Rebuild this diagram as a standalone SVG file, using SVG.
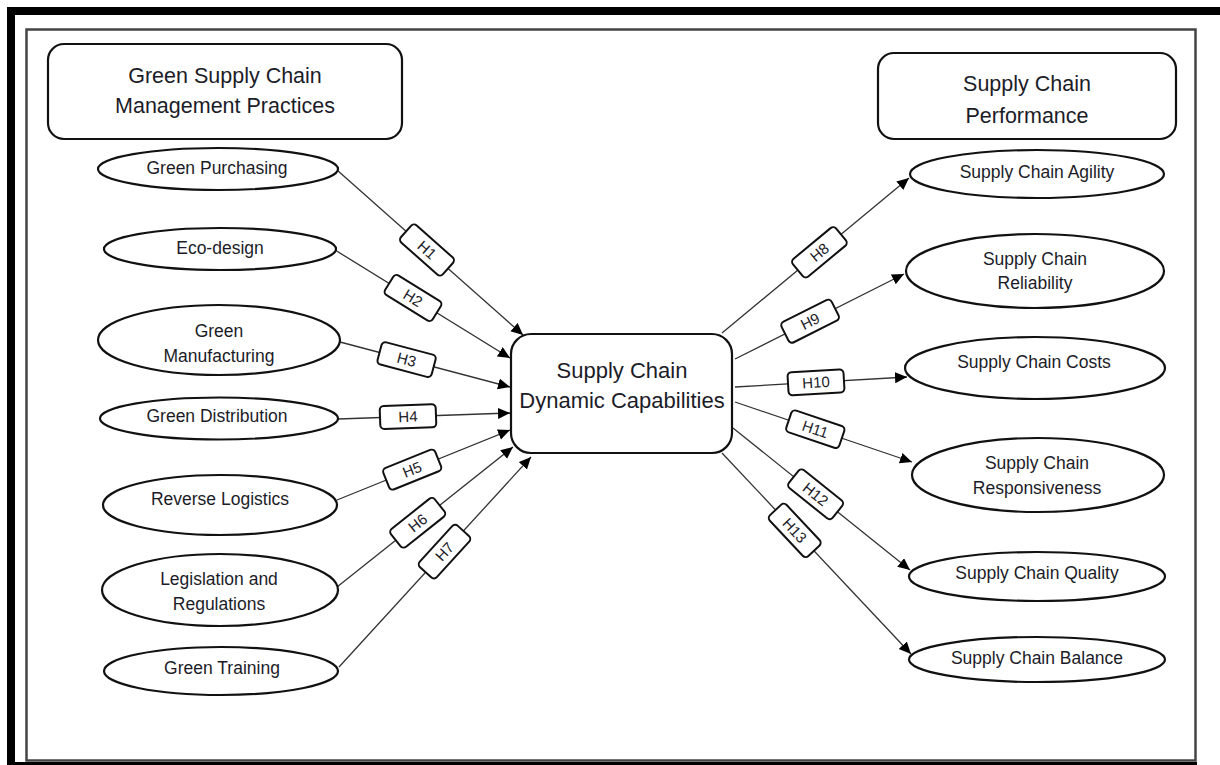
<svg xmlns="http://www.w3.org/2000/svg" width="1220" height="765" viewBox="0 0 1220 765">
<defs>
<style>
.t{font-family:"Liberation Sans",Arial,sans-serif;fill:#1c1c28;text-anchor:middle}
.el{font-size:17.5px}
.hd{font-size:21.5px}
.ct{font-size:22px}
.lb{font-size:15px}
.node{fill:#fff;stroke:#111;stroke-width:2.2}
.lbox{fill:#fff;stroke:#111;stroke-width:2}
.con{stroke:#333;stroke-width:1.3;fill:none;marker-end:url(#arr)}
</style>
<marker id="arr" markerUnits="userSpaceOnUse" markerWidth="13" markerHeight="12" refX="12" refY="5.5" orient="auto">
<path d="M0,0 L12,5.5 L0,11 z" fill="#000"/>
</marker>
</defs>
<rect width="1220" height="765" fill="#fff"/>
<g id="frame">
<rect x="7" y="7" width="1213" height="8" fill="#000"/>
<rect x="7" y="7" width="8" height="758" fill="#000"/>
<rect x="7" y="762" width="1190" height="3" fill="#000"/>
<rect x="26.5" y="29.5" width="1169" height="731" fill="none" stroke="#444" stroke-width="2.5"/>
</g>
<g id="connectors">
<line class="con" x1="337" y1="170" x2="523" y2="335"/>
<line class="con" x1="335" y1="250" x2="510" y2="358"/>
<line class="con" x1="340" y1="342" x2="510" y2="387"/>
<line class="con" x1="338" y1="419" x2="510" y2="413"/>
<line class="con" x1="337" y1="500" x2="510" y2="430"/>
<line class="con" x1="337" y1="587" x2="513" y2="447"/>
<line class="con" x1="339" y1="667" x2="531" y2="457"/>
<line class="con" x1="722" y1="333" x2="909" y2="178"/>
<line class="con" x1="735" y1="359" x2="904" y2="274"/>
<line class="con" x1="735" y1="387" x2="907" y2="377"/>
<line class="con" x1="735" y1="402" x2="912" y2="462"/>
<line class="con" x1="733" y1="428" x2="910" y2="570"/>
<line class="con" x1="722" y1="453" x2="911" y2="654"/>
</g>
<g id="labels">
<g transform="translate(427,250) rotate(41.6)"><rect class="lbox" x="-28" y="-11.5" width="56" height="23" rx="4"/><text class="t lb" y="5.3">H1</text></g>
<g transform="translate(413,298) rotate(31.7)"><rect class="lbox" x="-28" y="-11.5" width="56" height="23" rx="4"/><text class="t lb" y="5.3">H2</text></g>
<g transform="translate(406.6,359.6) rotate(14.8)"><rect class="lbox" x="-28" y="-11.5" width="56" height="23" rx="4"/><text class="t lb" y="5.3">H3</text></g>
<g transform="translate(408,416.6) rotate(-2)"><rect class="lbox" x="-28" y="-11.5" width="56" height="23" rx="4"/><text class="t lb" y="5.3">H4</text></g>
<g transform="translate(412.2,469.6) rotate(-22)"><rect class="lbox" x="-28" y="-11.5" width="56" height="23" rx="4"/><text class="t lb" y="5.3">H5</text></g>
<g transform="translate(417.7,522.8) rotate(-38.5)"><rect class="lbox" x="-28" y="-11.5" width="56" height="23" rx="4"/><text class="t lb" y="5.3">H6</text></g>
<g transform="translate(444.5,551.6) rotate(-47.6)"><rect class="lbox" x="-28" y="-11.5" width="56" height="23" rx="4"/><text class="t lb" y="5.3">H7</text></g>
<g transform="translate(819.4,252.3) rotate(-39.6)"><rect class="lbox" x="-28" y="-11.5" width="56" height="23" rx="4"/><text class="t lb" y="5.3">H8</text></g>
<g transform="translate(810.1,321.2) rotate(-26.7)"><rect class="lbox" x="-28" y="-11.5" width="56" height="23" rx="4"/><text class="t lb" y="5.3">H9</text></g>
<g transform="translate(816,382.3) rotate(-3.3)"><rect class="lbox" x="-28" y="-11.5" width="56" height="23" rx="4"/><text class="t lb" y="5.3">H10</text></g>
<g transform="translate(815.3,429.2) rotate(18.7)"><rect class="lbox" x="-28" y="-11.5" width="56" height="23" rx="4"/><text class="t lb" y="5.3">H11</text></g>
<g transform="translate(815.6,494.3) rotate(38.7)"><rect class="lbox" x="-28" y="-11.5" width="56" height="23" rx="4"/><text class="t lb" y="5.3">H12</text></g>
<g transform="translate(794.7,530.4) rotate(46.8)"><rect class="lbox" x="-28" y="-11.5" width="56" height="23" rx="4"/><text class="t lb" y="5.3">H13</text></g>
</g>
<g id="hdr-gscm">
<rect class="node" x="48" y="44" width="354" height="95" rx="16"/>
<text class="t hd" x="225" y="82.7">Green Supply Chain</text>
<text class="t hd" x="225" y="112.7">Management Practices</text>
</g>
<g id="hdr-scp">
<rect class="node" x="878" y="53" width="298" height="86" rx="16"/>
<text class="t hd" x="1027" y="91">Supply Chain</text>
<text class="t hd" x="1027" y="123">Performance</text>
</g>
<g id="scdc">
<rect class="node" x="511" y="334" width="221" height="119" rx="20"/>
<text class="t ct" x="622" y="378">Supply Chain</text>
<text class="t ct" x="622" y="408">Dynamic Capabilities</text>
</g>
<g id="green-purchasing">
<ellipse class="node" cx="218" cy="169" rx="120" ry="21"/>
<text class="t el" x="217" y="174.3">Green Purchasing</text>
</g>
<g id="eco-design">
<ellipse class="node" cx="220" cy="249" rx="116" ry="21"/>
<text class="t el" x="220" y="254.3">Eco-design</text>
</g>
<g id="green-manufacturing">
<ellipse class="node" cx="219" cy="340" rx="121" ry="35"/>
<text class="t el" x="219" y="337.3">Green</text>
<text class="t el" x="219" y="362.3">Manufacturing</text>
</g>
<g id="green-distribution">
<ellipse class="node" cx="219" cy="418.5" rx="119" ry="21"/>
<text class="t el" x="217" y="422.3">Green Distribution</text>
</g>
<g id="reverse-logistics">
<ellipse class="node" cx="220" cy="505" rx="117" ry="30"/>
<text class="t el" x="220" y="505.3">Reverse Logistics</text>
</g>
<g id="legislation">
<ellipse class="node" cx="220" cy="590" rx="118" ry="36"/>
<text class="t el" x="219" y="585.3">Legislation and</text>
<text class="t el" x="219" y="610.3">Regulations</text>
</g>
<g id="green-training">
<ellipse class="node" cx="221" cy="671" rx="117" ry="24"/>
<text class="t el" x="222" y="674.3">Green Training</text>
</g>
<g id="sc-agility">
<ellipse class="node" cx="1037" cy="174" rx="127" ry="24"/>
<text class="t el" x="1037" y="178.3">Supply Chain Agility</text>
</g>
<g id="sc-reliability">
<ellipse class="node" cx="1035" cy="271" rx="129" ry="37"/>
<text class="t el" x="1035" y="265.3">Supply Chain</text>
<text class="t el" x="1035" y="289.3">Reliability</text>
</g>
<g id="sc-costs">
<ellipse class="node" cx="1035" cy="368" rx="130" ry="31"/>
<text class="t el" x="1034" y="368.3">Supply Chain Costs</text>
</g>
<g id="sc-responsiveness">
<ellipse class="node" cx="1038" cy="475" rx="126" ry="37"/>
<text class="t el" x="1037" y="469.3">Supply Chain</text>
<text class="t el" x="1037" y="494.3">Responsiveness</text>
</g>
<g id="sc-quality">
<ellipse class="node" cx="1037" cy="576.5" rx="128" ry="24.5"/>
<text class="t el" x="1037" y="579.3">Supply Chain Quality</text>
</g>
<g id="sc-balance">
<ellipse class="node" cx="1037" cy="659.5" rx="128" ry="22.5"/>
<text class="t el" x="1037" y="664.3">Supply Chain Balance</text>
</g>
</svg>
